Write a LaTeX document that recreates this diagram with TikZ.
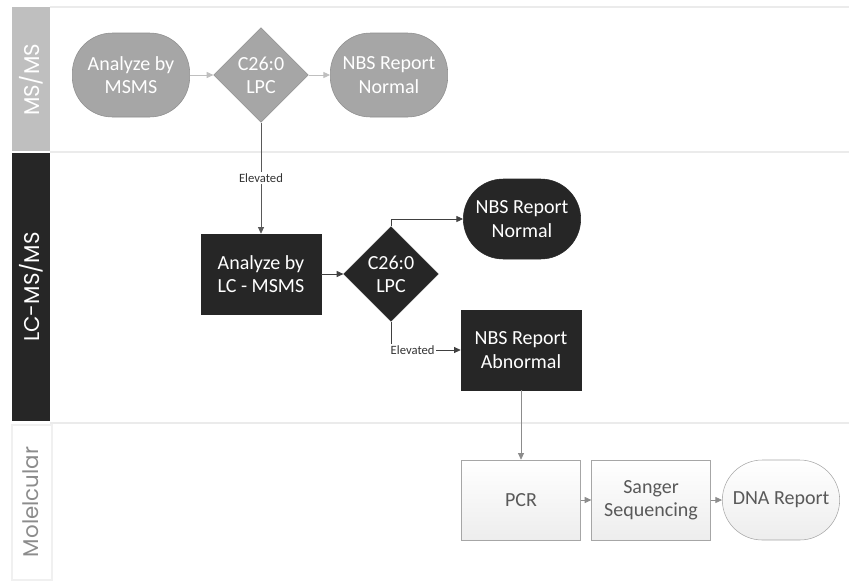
\documentclass[tikz,border=0pt]{standalone}
\usepackage{fontspec}
\setmainfont{Carlito}
\newfontfamily\lanefont{Poppins}
\usetikzlibrary{shapes.geometric,arrows.meta}

\definecolor{lanegray}{HTML}{BFBFBF}
\definecolor{nodegray}{HTML}{A6A6A6}
\definecolor{darkfill}{HTML}{262626}
\definecolor{rulegray}{HTML}{EBEBEB}
\definecolor{molline}{HTML}{A6A6A6}
\definecolor{moltext}{HTML}{595959}

\tikzset{
  box/.style={align=center, inner sep=0pt, font=\fontsize{15}{17.5}\selectfont},
  terminal/.style={box, rectangle, rounded corners=30pt, minimum width=88pt, minimum height=63pt},
  process/.style={box, rectangle, minimum width=90pt, minimum height=60pt},
  decision/.style={box, diamond, minimum width=71pt, minimum height=71pt},
  graylane/.style={fill=nodegray, draw=nodegray!85!black, text=white},
  darklane/.style={fill=darkfill, draw=darkfill, text=white},
  mollane/.style={top color=white, bottom color=black!7, draw=molline, text=moltext},
  flow/.style={-{Triangle[length=5pt,width=4.5pt]}, line width=0.6pt},
  elev/.style={fill=white, inner sep=1pt, font=\fontsize{9.5}{11}\selectfont, text=black!80},
  lanelabel/.style={rotate=90, font=\lanefont\fontsize{16}{18}\selectfont}
}

\begin{document}
\begin{tikzpicture}[x=0.75pt,y=-0.75pt]
    \useasboundingbox (0,0) rectangle (849,583);

    % lanes
    \draw[rulegray, line width=1.5pt] (50,7) -- (849,7);
    \draw[rulegray, line width=1.5pt] (50,152) -- (849,152);
    \draw[rulegray, line width=1.5pt] (50,423) -- (849,423);
    \fill[lanegray] (12,7) rectangle (50,151);
    \fill[darkfill] (12,153) rectangle (50,421);
    \draw[black!6, line width=1pt] (12,425) rectangle (52,580);
    \node[lanelabel, text=white] (l1) at (31,80) {MS/MS};
    \node[lanelabel, text=white] (l2) at (31,287) {LC-MS/MS};
    \node[lanelabel, text=black!45] (l3) at (31,502) {Molelcular};

    % MS/MS
    \node[terminal, graylane] (a1) at (131,75) {Analyze by\\MSMS};
    \node[decision, graylane] (d1) at (261,75) {C26:0\\LPC};
    \node[terminal, graylane] (n1) at (389,75) {NBS Report\\Normal};
    \draw[flow, lanegray] (a1) -- (d1);
    \draw[flow, lanegray] (d1) -- (n1);

    % LC-MS/MS
    \node[process, darklane] (a2) at (261,274) {Analyze by\\LC - MSMS};
    \node[decision, darklane] (d2) at (391,274) {C26:0\\LPC};
    \node[terminal, darklane, minimum width=88pt, minimum height=60pt] (n2) at (522,219) {NBS Report\\Normal};
    \node[process, darklane] (ab) at (521,350) {NBS Report\\Abnormal};
    \draw[flow, black!65] (d1.south) -- node[elev] {Elevated} (a2.north);
    \draw[flow, black!75] (a2) -- (d2);
    \draw[flow, black!75] (d2.north) |- (n2.west);
    \draw[flow, black!75] (d2.south) |- node[elev, pos=0.655] {Elevated} (ab.west);

    % Molecular
    \node[process, mollane, minimum width=89pt] (pcr) at (521,500) {PCR};
    \node[process, mollane, minimum width=89pt] (sang) at (651,500) {Sanger\\Sequencing};
    \node[terminal, mollane, minimum height=60pt] (dna) at (781,500) {DNA Report};
    \draw[flow, black!45] (ab.south) -- (pcr.north);
    \draw[flow, black!45] (pcr) -- (sang);
    \draw[flow, black!45] (sang) -- (dna);
\end{tikzpicture}
\end{document}
